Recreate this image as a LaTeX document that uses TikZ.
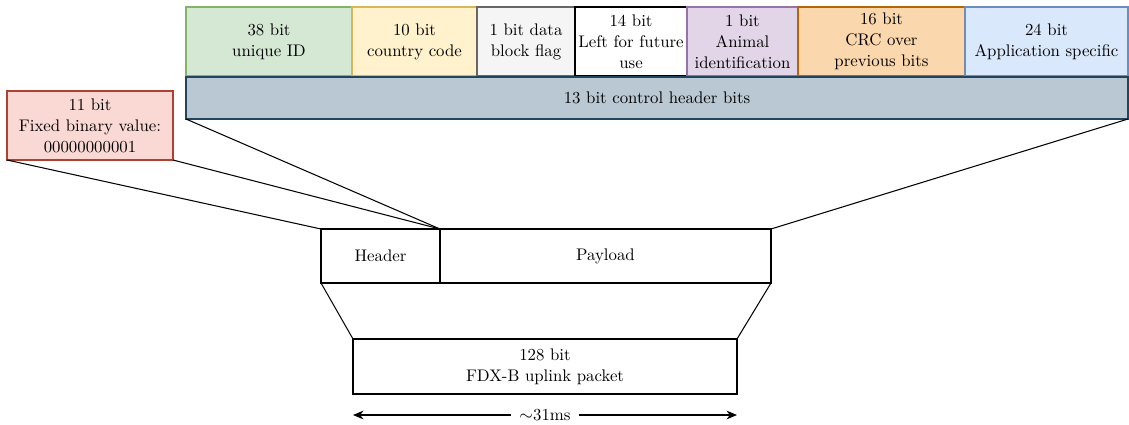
\documentclass[tikz,border=0pt]{standalone}
\usetikzlibrary{arrows.meta}
\definecolor{gfill}{HTML}{D5E8D4}\definecolor{gline}{HTML}{82B366}
\definecolor{yfill}{HTML}{FFF2CC}\definecolor{yline}{HTML}{D6B656}
\definecolor{sfill}{HTML}{F5F5F5}\definecolor{sline}{HTML}{666666}
\definecolor{pfill}{HTML}{E1D5E7}\definecolor{pline}{HTML}{9673A6}
\definecolor{ofill}{HTML}{FAD7AC}\definecolor{oline}{HTML}{B46504}
\definecolor{bfill}{HTML}{DAE8FC}\definecolor{bline}{HTML}{6C8EBF}
\definecolor{cfill}{HTML}{BAC8D3}\definecolor{cline}{HTML}{23445D}
\definecolor{rfill}{HTML}{FAD9D5}\definecolor{rline}{HTML}{AE4132}
\def\pu{0.5714pt}
\begin{document}
\begin{tikzpicture}[x=0.5714pt,y=-0.5714pt,
  box/.style={draw, line width=0.6pt, align=center, inner sep=0pt, outer sep=0pt, anchor=north west, font=\fontsize{9.6}{12}\selectfont},
  conn/.style={line width=0.6pt}]
\useasboundingbox (0,0) rectangle (1129,424);
\node[box, fill=gfill, draw=gline, minimum width=166*\pu, minimum height=69*\pu] (uid) at (186,7) {38 bit\\unique ID};
\node[box, fill=yfill, draw=yline, minimum width=125*\pu, minimum height=69*\pu] (cc) at (352,7) {10 bit\\country code};
\node[box, fill=sfill, draw=sline, minimum width=98*\pu, minimum height=69*\pu] (flag) at (477,7) {1 bit data\\block flag};
\node[box, fill=white, draw=black, line width=1pt, minimum width=112*\pu, minimum height=69*\pu] (fut) at (575,7) {14 bit\\Left for future\\use};
\node[box, fill=pfill, draw=pline, minimum width=111*\pu, minimum height=69*\pu] (ani) at (687,7) {1 bit\\Animal\\identification};
\node[box, fill=ofill, draw=oline, minimum width=167*\pu, minimum height=69*\pu] (crc) at (798,7) {16 bit\\CRC over\\previous bits};
\node[box, fill=bfill, draw=bline, minimum width=163*\pu, minimum height=69*\pu] (app) at (965,7) {24 bit\\Application specific};
\node[box, fill=cfill, draw=cline, minimum width=942*\pu, minimum height=42*\pu] (ctrl) at (186,77) {13 bit control header bits};
\node[box, fill=rfill, draw=rline, minimum width=166*\pu, minimum height=69*\pu] (fix) at (7,91) {11 bit\\Fixed binary value:\\00000000001};
\node[box, minimum width=119*\pu, minimum height=54*\pu] (hdr) at (321,229) {Header};
\node[box, minimum width=331*\pu, minimum height=54*\pu] (pay) at (440,229) {Payload};
\node[box, minimum width=384*\pu, minimum height=55*\pu] (fdx) at (353,339) {128 bit\\FDX-B uplink packet};
\draw[conn] (fix.south west) -- (hdr.north west);
\draw[conn] (fix.south east) -- (hdr.north east);
\draw[conn] (ctrl.south west) -- (hdr.north east);
\draw[conn] (ctrl.south east) -- (pay.north east);
\draw[conn] (hdr.south west) -- (fdx.north west);
\draw[conn] (pay.south east) -- (fdx.north east);
\coordinate (a1) at (353,415);
\coordinate (a2) at (737,415);
\draw[conn, {Stealth[length=6pt,width=5pt]}-{Stealth[length=6pt,width=5pt]}] (a1) -- (a2);
\node[fill=white, inner xsep=5pt, inner ysep=2pt, font=\fontsize{9.6}{12}\selectfont] (dur) at (545,415) {$\sim$31ms};
\end{tikzpicture}
\end{document}
